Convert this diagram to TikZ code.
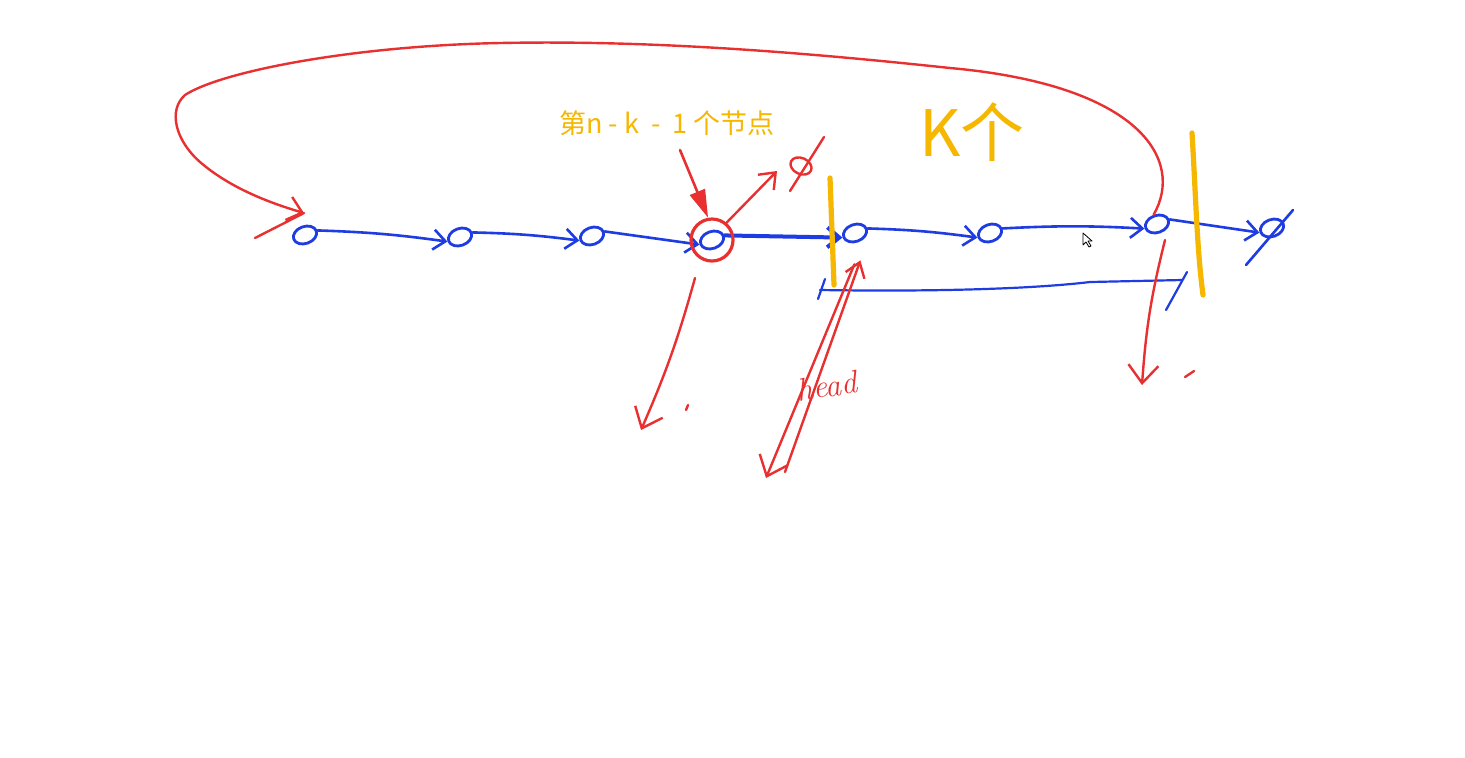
\documentclass[tikz,border=0pt]{standalone}
\usepackage{fontspec}
\newfontfamily\cjkfont{Noto Sans CJK SC}
\usetikzlibrary{shapes.geometric,arrows.meta}
\definecolor{inkblue}{RGB}{30,60,225}
\definecolor{inkred}{RGB}{232,48,48}
\definecolor{inkgold}{RGB}{245,183,0}

\begin{document}
\begin{tikzpicture}[x=0.5pt, y=-0.5pt, line cap=round, line join=round]
  \tikzstyle{item}=[ellipse, draw=inkblue, line width=1.4pt, minimum width=12pt, minimum height=8.5pt, inner sep=0pt, rotate=20]
  \tikzstyle{link}=[draw=inkblue, line width=1.3pt, -{Straight Barb[length=6pt,width=10pt]}]
  \tikzstyle{redline}=[draw=inkred, line width=1.2pt]
  \tikzstyle{down}=[redline, -{Straight Barb[length=9pt,width=15pt]}]
  \tikzstyle{gold}=[draw=inkgold, line width=2.6pt]

  \fill [white] (0,0) rectangle (1465,757);
  \useasboundingbox (0,0) rectangle (1465,757);

  % the list
  \node[item] (n1) at (305,235) {};
  \node[item] (n2) at (460,237) {};
  \node[item] (n3) at (592,236) {};
  \node[item] (n4) at (712,240) {};
  \node[item] (n5) at (855,233) {};
  \node[item] (n6) at (990,233) {};
  \node[item] (n7) at (1157,224) {};
  \node[item] (nil) at (1272,228) {};
  \coordinate (nilA) at (1293,210);
  \coordinate (nilB) at (1246,265);
  \draw[inkblue, line width=1.3pt] (nilA) -- (nilB);

  \path[link] (n1.east) to[bend left=3] (n2.west);
  \path[link] (n2.east) to[bend left=3] (n3.west);
  \path[link] (n3.east) -- (n4.west);
  \path[link, line width=2pt] (n4.east) -- (n5.west);
  \path[link] (n5.east) to[bend left=3] (n6.west);
  \path[link] (n6.east) to[bend left=3] (n7.west);
  \path[link] (n7.east) -- (nil.west);

  % node n-k-1
  \node[circle, draw=inkred, line width=1.6pt, minimum size=21pt] (ring) at (n4) {};
  \node[text=inkgold, font=\cjkfont\fontsize{13.5}{15}\selectfont] (label) at (667,123) {第n - k \ - \ 1 个节点};
  \coordinate (tag) at (680,150);
  \draw[inkred, line width=1.3pt, -{Triangle[length=14pt,width=8pt]}] (tag) -- (ring.100);

  % next -> null
  \coordinate (q) at (777,171);
  \draw[redline, -{Straight Barb[length=7pt,width=11pt]}] (ring.50) -- (q);
  \node[ellipse, draw=inkred, line width=1.2pt, minimum width=11pt, minimum height=8pt, inner sep=0pt, rotate=-25] (rnil) at (801,166) {};
  \coordinate (rnilA) at (824,137);
  \coordinate (rnilB) at (790,191);
  \draw[redline] (rnilA) -- (rnilB);

  % k nodes
  \node[text=inkgold, font=\cjkfont\fontsize{32}{32}\selectfont] (kcount) at (972,132) {K个};
  \coordinate (cutA) at (830,178);
  \coordinate (cutB) at (834,285);
  \coordinate (endA) at (1192,133);
  \coordinate (endB) at (1203,295);
  \draw[gold] (cutA) -- (cutB);
  \draw[gold] (endA) .. controls (1196,200) and (1197,250) .. (endB);

  % span of k
  \coordinate (spanA) at (820,290);
  \coordinate (spanB) at (1182,280);
  \draw[inkblue, line width=1.1pt] (spanA) .. controls (950,292) and (1040,288) .. (1090,282) -- (spanB);
  \draw[inkblue, line width=1.1pt] (825,279) -- (818,299);
  \draw[inkblue, line width=1.1pt] (1187,272) -- (1166,310);

  % tail back to first
  \coordinate (tip) at (304,213);
  \draw[redline, -{Straight Barb[length=7pt,width=12pt]}] (n7.north)
    .. controls (1185,160) and (1140,85) .. (950,68)
    .. controls (800,52) and (650,40) .. (500,43)
    .. controls (350,46) and (220,72) .. (185,95)
    .. controls (168,110) and (175,140) .. (200,162)
    .. controls (230,188) and (270,203) .. (tip);
  \draw[redline] (255,238) -- (tip);

  % new tail and new head
  \coordinate (dropA) at (695,278);
  \coordinate (dropB) at (641,430);
  \draw[down] (dropA) to[bend left=4] (dropB);
  \coordinate (tailA) at (1165,240);
  \coordinate (tailB) at (1142,385);
  \draw[down] (tailA) to[bend right=5] (tailB);
  \coordinate (headA) at (785,472);
  \coordinate (headB) at (766,478);
  \draw[redline, -{Straight Barb[length=7pt,width=10pt]}] (headA) -- ([xshift=1pt,yshift=-9pt]n5.south);
  \draw[down] ([xshift=-2pt,yshift=-11pt]n5.south) -- (headB);
  \node[text=inkred, font=\itshape\fontsize{16}{16}\selectfont, rotate=8] (headlbl) at (827,386) {head};

  % stray marks
  \draw[redline] (686,410) -- (688,405);
  \draw[redline] (1185,377) -- (1194,371);

  % cursor
  \draw[black, line width=0.4pt, fill=white] (1083,233) -- (1083,245) -- (1086,242) -- (1089,247) -- (1091,246) -- (1088,241) -- (1092,241) -- cycle;
\end{tikzpicture}
\end{document}
